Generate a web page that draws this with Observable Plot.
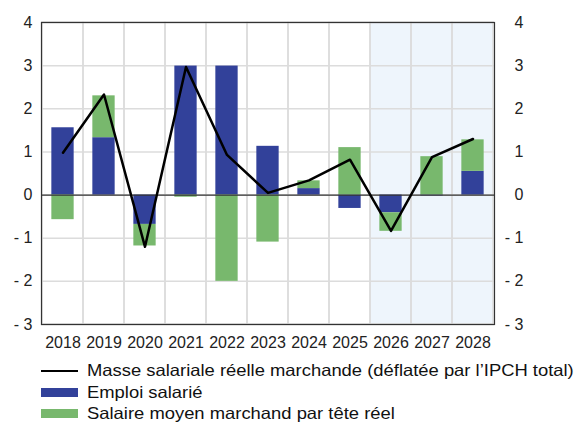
<!DOCTYPE html>
<html><head><meta charset="utf-8">
<script src="https://cdn.jsdelivr.net/npm/d3@7"></script>
<script src="https://cdn.jsdelivr.net/npm/@observablehq/plot@0.6"></script>
<style>
body{margin:0;background:#fff;font-family:"Liberation Sans",Arial,sans-serif;}
#legend{position:absolute;left:0;top:360px;font-size:16.5px;color:#111;}
.row{height:21.5px;display:flex;align-items:center;white-space:nowrap;}
.sw{margin-left:41px;width:37px;margin-right:9px;flex:none;}
.row span{display:inline-block;transform:scaleX(1.115);transform-origin:left center;}
</style></head><body>
<div id="chart"></div>
<div id="legend"></div>
<script>
const years = ["2018","2019","2020","2021","2022","2023","2024","2025","2026","2027","2028"];
const emploi = [1.56, 1.33, -0.68, 2.99, 2.99, 1.13, 0.15, -0.31, -0.41, -0.02, 0.55];
const salaire = [-0.57, 0.97, -0.50, -0.05, -2.0, -1.09, 0.18, 1.10, -0.43, 0.89, 0.73];
const masse = [0.98, 2.33, -1.20, 2.97, 0.93, 0.05, 0.34, 0.82, -0.83, 0.88, 1.30];
const projYears = ["2026","2027","2028"];
const yTicks = [-3,-2,-1,0,1,2,3,4];
const seriesNames = ["Masse salariale réelle marchande (déflatée par l’IPCH total)", "Emploi salarié", "Salaire moyen marchand par tête réel"];
const colors = {line:"#000000", emploi:"#32419a", salaire:"#78b86d"};

const bars = [];
years.forEach((y,i)=>{
  bars.push({year:y, series:"emploi", value:emploi[i]});
  bars.push({year:y, series:"salaire", value:salaire[i]});
});
const lineData = years.map((y,i)=>({year:y, value:masse[i]}));
const fmt = d => d < 0 ? "- " + Math.abs(d) : String(d);

const W = 580, H = 355, mL = 41, mR = 86;
const inset = ((W - mL - mR) / years.length - 22.5) / 2;

const chart = Plot.plot({
  width: W, height: H,
  marginLeft: mL, marginRight: mR, marginTop: 22, marginBottom: 31,
  style: {fontFamily: "Liberation Sans, Arial, sans-serif", fontSize: "16px", color: "#222", background: "#fff"},
  x: {domain: years, padding: 0, label: null},
  y: {domain: [-3, 4], label: null},
  color: {domain: ["emploi","salaire"], range: [colors.emploi, colors.salaire]},
  marks: [
    Plot.barY(projYears, {x: d => d, y1: -3, y2: 4, fill: "#eef5fc"}),
    Plot.ruleY(yTicks, {stroke: "#dcdcdc", strokeWidth: 1.5}),
    Plot.barY(years, {x: d => d, y1: -3, y2: 4, fill: "none", stroke: "#dcdcdc", strokeWidth: 1.5}),
    Plot.barY(bars, Plot.stackY({order: null}, {x: "year", y: "value", fill: "series", insetLeft: inset, insetRight: inset})),
    Plot.ruleY([0], {stroke: "#333", strokeWidth: 1.2}),
    Plot.line(lineData, {x: "year", y: "value", stroke: colors.line, strokeWidth: 2.5}),
    Plot.frame({stroke: "#333", strokeWidth: 1.2}),
    Plot.axisY(yTicks, {anchor: "left", tickSize: 0, tickPadding: 9, tickFormat: fmt, label: null, fontSize: 16}),
    Plot.axisY(yTicks, {anchor: "right", tickSize: 0, tickPadding: 0, tickFormat: fmt, textAnchor: "end", dx: 29, label: null, fontSize: 16}),
    Plot.axisX({tickSize: 0, tickPadding: 12, label: null, fontSize: 16})
  ]
});
document.getElementById("chart").appendChild(chart);

const legend = document.getElementById("legend");
const items = [
  {name: seriesNames[0], type: "line", color: colors.line},
  {name: seriesNames[1], type: "rect", color: colors.emploi},
  {name: seriesNames[2], type: "rect", color: colors.salaire}
];
items.forEach(it=>{
  const row = document.createElement("div"); row.className = "row";
  const sw = document.createElement("div"); sw.className = "sw";
  sw.style.background = it.color;
  sw.style.height = it.type === "line" ? "2.5px" : "9px";
  const t = document.createElement("span"); t.textContent = it.name;
  row.appendChild(sw); row.appendChild(t); legend.appendChild(row);
});
</script></body></html>
